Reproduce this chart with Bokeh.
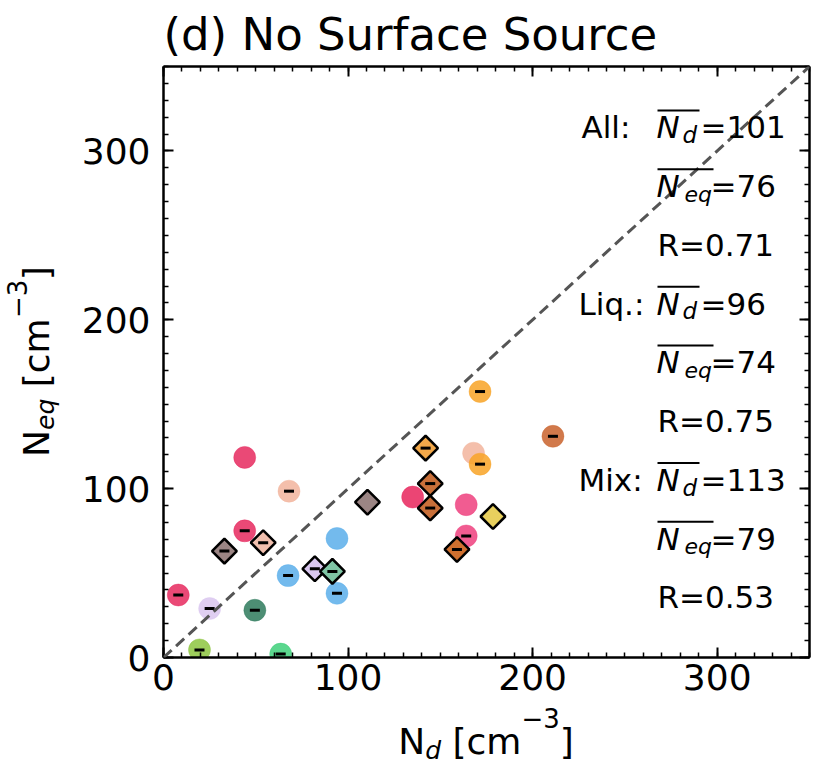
import numpy as np
from bokeh.plotting import figure
from bokeh.models import (Range1d, LinearAxis, SingleIntervalTicker, Label,
                          BoxAnnotation, Slope, ColumnDataSource, Div,
                          CustomJSTickFormatter)
from bokeh.layouts import row, column
from bokeh.embed import file_html
from bokeh.resources import INLINE

# ---------------- data ----------------
circle_x = [8, 25, 19.5, 63.5, 49.5, 44, 44, 68, 94, 67.5, 94, 135, 168, 171.5, 171.5, 164, 164, 211]
circle_y = [37, 29, 4.5, 2, 28, 118.5, 75, 98.5, 70.5, 48.5, 38, 95, 121, 157.5, 114.5, 90.5, 72, 131]
circle_color = ["#e6295e", "#d9c6ef", "#8dc63f", "#3ed07a", "#2e7a5c", "#e6295e", "#e6295e",
                "#f2b49c", "#5aaeea", "#5aaeea", "#5aaeea", "#e8255c", "#f2b49c", "#f8a326",
                "#f8a326", "#ee3f7e", "#ee3f7e", "#c9622b"]
circle_dash = [1, 1, 1, 1, 1, 0, 1, 1, 0, 1, 1, 0, 0, 1, 1, 0, 1, 1]

diamond_x = [33, 54, 82, 91.5, 110.5, 142, 144.5, 144.5, 159, 178.5]
diamond_y = [63, 68, 52.5, 51, 92, 124, 103, 88.5, 64, 83.5]
diamond_color = ["#9b8584", "#f0bfae", "#d9c6ef", "#7fc4a4", "#9b8584", "#f2a84a",
                 "#c9703a", "#c9703a", "#d0702f", "#e8d05e"]
diamond_dash = [1, 1, 1, 1, 0, 1, 1, 1, 1, 0]

group_names = ["All:", "Liq.:", "Mix:"]
mean_nd = [101, 96, 113]
mean_neq = [76, 74, 79]
corr_r = [0.71, 0.75, 0.53]

tick_interval = 100
axis_max = 350

# ---------------- layout constants (page px) ----------------
FONT = "DejaVu Sans"
YLAB_W = 70
FL, FT, FW, FH = 163, 66, 646, 591
BOTTOM = 50
XLAB_H = 57

def dx(px):
    return (px - FL) * axis_max / FW

def dy(py):
    return (FT + FH - py) * axis_max / FH

p = figure(frame_width=FW, frame_height=FH,
           x_range=Range1d(0, axis_max), y_range=Range1d(0, axis_max),
           output_backend="svg", toolbar_location=None,
           min_border_left=FL - YLAB_W, min_border_right=4,
           min_border_top=FT, min_border_bottom=BOTTOM,
           x_axis_type=None, y_axis_type=None)
p.xgrid.visible = False
p.ygrid.visible = False
p.outline_line_color = None
p.background_fill_color = "white"
p.border_fill_color = "white"

p.title.text = "(d) No Surface Source"
p.title.text_font = FONT
p.title.text_font_size = "45px"
p.title.text_font_style = "normal"
p.title.text_color = "black"
p.title.align = "left"
p.title.offset = 0
p.title.standoff = 11

def make_axis(show_labels):
    ax = LinearAxis(ticker=SingleIntervalTicker(interval=tick_interval, num_minor_ticks=10))
    ax.axis_line_width = 2.5
    ax.axis_line_color = "black"
    ax.major_tick_in = 10
    ax.major_tick_out = 0
    ax.minor_tick_in = 5
    ax.minor_tick_out = 0
    ax.major_tick_line_width = 2
    ax.minor_tick_line_width = 1.5
    ax.major_tick_line_color = "black"
    ax.minor_tick_line_color = "black"
    ax.major_label_text_font = FONT
    if show_labels:
        ax.major_label_text_font_size = "36px"
        ax.major_label_text_color = "black"
    else:
        ax.formatter = CustomJSTickFormatter(code="return ''")
        ax.major_label_text_font_size = "1px"
        ax.major_label_standoff = 0
    return ax

xb = make_axis(True); xb.major_label_standoff = 6
yl = make_axis(True); yl.major_label_standoff = 13
p.add_layout(xb, "below")
p.add_layout(yl, "left")
p.add_layout(make_axis(False), "above")
p.add_layout(make_axis(False), "right")

# ---------------- marks ----------------
csrc = ColumnDataSource(dict(x=circle_x, y=circle_y, c=circle_color))
p.scatter("x", "y", source=csrc, marker="circle", size=22, fill_color="c",
          fill_alpha=0.85, line_color="c", line_alpha=0.4, line_width=1)
cdx = [x for x, d in zip(circle_x, circle_dash) if d]
cdy = [y for y, d in zip(circle_y, circle_dash) if d]
p.scatter(cdx, cdy, marker="dash", size=10, line_color="black", line_width=3)

dsrc = ColumnDataSource(dict(x=diamond_x, y=diamond_y, c=diamond_color))
p.scatter("x", "y", source=dsrc, marker="square", angle=np.pi / 4, size=17.5,
          fill_color="c", line_color="black", line_width=2.5)
ddx = [x for x, d in zip(diamond_x, diamond_dash) if d]
ddy = [y for y, d in zip(diamond_y, diamond_dash) if d]
p.scatter(ddx, ddy, marker="dash", size=10, line_color="black", line_width=3)

p.add_layout(Slope(gradient=1, y_intercept=0, line_color="#555555",
                   line_width=3, line_dash="11 6"))

# ---------------- statistics block ----------------
def lab(px, base, text, size, style="normal"):
    # anchor at the middle of the text box, placed from the wanted baseline
    p.add_layout(Label(x=dx(px), y=dy(base - 0.36 * size), text=text, text_font=FONT,
                       text_font_size=f"{size}px", text_font_style=style,
                       text_color="black", text_align="left",
                       text_baseline="middle"))

def overline(px0, px1, py):
    p.add_layout(BoxAnnotation(left=dx(px0), right=dx(px1), bottom=dy(py + 1),
                               top=dy(py - 1), fill_color="black", fill_alpha=1,
                               line_color=None, level="overlay"))

row0, step = 138, 58.75
for g in range(3):
    b_nd = row0 + step * (3 * g)
    b_neq = b_nd + step
    b_r = b_nd + 2 * step
    lab(581 if g == 0 else 578, b_nd, group_names[g], 31)
    overline(657, 699, b_nd - 28)
    lab(656, b_nd, "N", 31, "italic")
    lab(682, b_nd + 5, "d", 23, "italic")
    lab(700, b_nd, f"={mean_nd[g]}", 31)
    overline(657, 713, b_neq - 28)
    lab(656, b_neq, "N", 31, "italic")
    lab(684, b_neq + 5, "eq", 22, "italic")
    lab(710, b_neq, f"={mean_neq[g]}", 31)
    lab(657, b_r, f"R={corr_r[g]:.2f}", 31)

# ---------------- axis titles as HTML text ----------------
TXT = "font-family:'DejaVu Sans'; font-size:36px; line-height:36px; color:black; white-space:nowrap;"
SUB = "font-size:25px; font-style:italic; position:relative;"
SUP = "font-size:26px; position:relative;"

ylab = Div(width=YLAB_W, height=FT + FH + BOTTOM, margin=0, text=(
    f'<div style="writing-mode:vertical-rl; transform:rotate(180deg); width:36px; '
    f'height:{FH}px; margin-top:{FT}px; margin-left:19px; text-align:center; {TXT}">'
    f'N<span style="{SUB} left:-9px;">eq</span> [cm'
    f'<span style="{SUP} left:19px;">\u22123</span>]</div>'))

xlab = Div(width=FL + FW + 4, height=XLAB_H, margin=0, text=(
    f'<div style="margin-left:{FL}px; width:{FW}px; padding-top:17px; text-align:center; {TXT}">'
    f'N<span style="{SUB} top:5px;">d</span> [cm'
    f'<span style="{SUP} top:-26px;">\u22123</span>]</div>'))

layout = column(row(ylab, p, spacing=0), xlab, spacing=0)

open("out.html", "w").write(file_html(layout, INLINE))
